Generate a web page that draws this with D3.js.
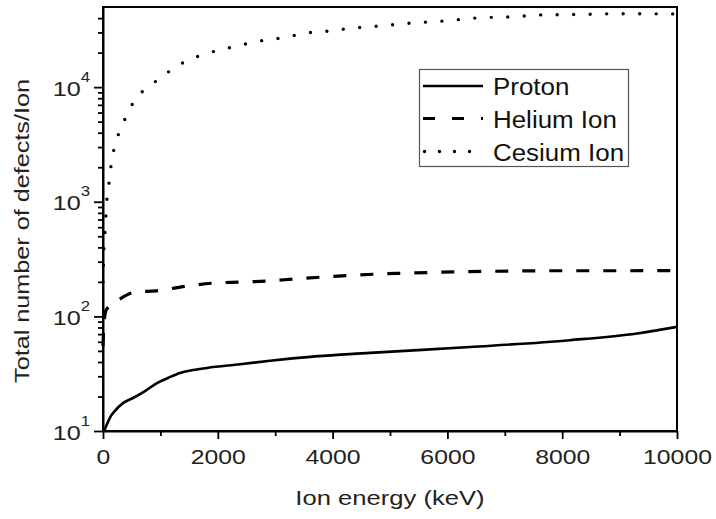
<!DOCTYPE html>
<html>
<head>
<meta charset="utf-8">
<script src="https://cdn.jsdelivr.net/npm/d3@7"></script>
<style>
  html, body { margin: 0; padding: 0; background: #fff; }
  svg { display: block; font-family: "Liberation Sans", Arial, sans-serif; }
</style>
</head>
<body>
<svg id="chart" width="716" height="519"></svg>
<script>
// Defects produced per incident ion versus ion energy
const protonEnergy  = [20, 70, 122, 209, 348, 523, 732, 941, 1132, 1341, 1568, 1812, 2387, 2909, 3258, 4652, 6394, 8136, 9303, 10000];
const protonDefects = [10, 11.5, 13.1, 15, 17.5, 19.4, 22.3, 26.2, 29, 32.1, 34, 35.5, 38.2, 41, 42.8, 48, 54, 62, 71, 81];

const heliumEnergy  = [0, 10, 25, 60, 157, 418, 592, 930, 1463, 1916, 2387, 2860, 3380, 3870, 4340, 4790, 5270, 5750, 6210, 6700, 7180, 8000, 9000, 10000];
const heliumDefects = [55, 75, 95, 115, 126, 154, 164, 167, 184, 195, 199, 203, 213, 221, 228, 234, 238, 242, 245, 247, 249, 250, 250, 251];

const cesiumEnergy  = [0, 8, 17, 35, 52, 70, 105, 139, 192, 279, 401, 557, 836, 1115, 1394, 1672, 1968, 2265, 2561, 2840, 3118, 3397, 3693, 3980, 4250, 4825, 5400, 5958, 6533, 7090, 7665, 8257, 8832, 9407, 10000];
const cesiumDefects = [200, 292, 404, 546, 767, 1080, 1460, 2050, 2890, 4000, 5500, 7730, 10400, 13300, 16300, 18700, 20700, 22400, 24300, 25800, 26900, 28600, 30300, 30900, 32300, 34200, 36300, 37800, 40200, 41000, 42700, 43000, 43600, 43600, 43500];

const seriesNames = ["Proton", "Helium Ion", "Cesium Ion"];
const xMajorTicks = [0, 2000, 4000, 6000, 8000, 10000];
const xMinorTicks = [1000, 3000, 5000, 7000, 9000];
const yMajorTicks = [10, 100, 1000, 10000];
const yMinorTicks = [20, 30, 40, 50, 60, 70, 80, 90,
                     200, 300, 400, 500, 600, 700, 800, 900,
                     2000, 3000, 4000, 5000, 6000, 7000, 8000, 9000,
                     20000, 30000, 40000];
const xDomain = [0, 10000];
const yDomain = [10, 50000];
const xTitle = "Ion energy (keV)";
const yTitle = "Total number of defects/Ion";

const svg = d3.select("#chart");
const W = 716, H = 519;
const margin = { left: 103, top: 7, right: 39, bottom: 88 };
const textColor = "#222";

const x = d3.scaleLinear().domain(xDomain).range([margin.left, W - margin.right]);
const y = d3.scaleLog().domain(yDomain).range([H - margin.bottom, margin.top]);

const [x0, x1] = x.range();
const [y0, y1] = y.range();

// plot frame
svg.append("rect")
  .attr("x", x0).attr("y", y1)
  .attr("width", x1 - x0).attr("height", y0 - y1)
  .attr("fill", "none").attr("stroke", "#000").attr("stroke-width", 2);

svg.append("defs").append("clipPath").attr("id", "plot-clip")
  .append("rect").attr("x", x0 - 2).attr("y", y1).attr("width", x1 - x0 + 2).attr("height", y0 - y1);

// curves
const line = d3.line().curve(d3.curveMonotoneX);
const series = [
  { e: protonEnergy, v: protonDefects, dash: null, width: 2.6, cap: "butt" },
  { e: heliumEnergy, v: heliumDefects, dash: "13 14", width: 3.2, cap: "butt" },
  { e: cesiumEnergy, v: cesiumDefects, dash: "0 16.5", width: 3.4, cap: "round" }
];
const plot = svg.append("g").attr("clip-path", "url(#plot-clip)");
series.forEach(s => {
  const pts = s.e.map((e, i) => [x(e), y(s.v[i])]);
  plot.append("path")
    .attr("d", line(pts))
    .attr("fill", "none")
    .attr("stroke", "#000")
    .attr("stroke-width", s.width)
    .attr("stroke-linecap", s.cap)
    .attr("stroke-linejoin", "round")
    .attr("stroke-dasharray", s.dash);
});

// x axis
svg.append("g").attr("transform", `translate(0,${y0})`)
  .call(d3.axisBottom(x).tickValues(xMinorTicks).tickSize(5).tickFormat(""))
  .call(g => g.select(".domain").remove());
const gxMajor = svg.append("g").attr("transform", `translate(0,${y0})`)
  .call(d3.axisBottom(x).tickValues(xMajorTicks).tickSize(8).tickSizeOuter(0).tickFormat(d3.format("d")));
gxMajor.select(".domain").attr("stroke", "#000").attr("stroke-width", 2);
gxMajor.selectAll(".tick text")
  .attr("y", 33).attr("dy", null)
  .attr("font-size", 21).attr("fill", textColor)
  .attr("font-family", "Liberation Sans, Arial, sans-serif")
  .attr("transform", "scale(1.18,1)");

// y axis
svg.append("g").attr("transform", `translate(${x0},0)`)
  .call(d3.axisLeft(y).tickValues(yMinorTicks).tickSize(5).tickFormat(""))
  .call(g => g.select(".domain").remove());
const gy = svg.append("g").attr("transform", `translate(${x0},0)`)
  .call(d3.axisLeft(y).tickValues(yMajorTicks).tickSize(9).tickSizeOuter(0).tickFormat(""));
gy.select(".domain").attr("stroke", "#000").attr("stroke-width", 2);
gy.selectAll(".tick text").each(function(d) {
  const t = d3.select(this);
  t.text(null)
    .attr("x", -13 / 1.2).attr("y", 8).attr("dy", null)
    .attr("text-anchor", "end")
    .attr("font-size", 21).attr("fill", textColor)
    .attr("font-family", "Liberation Sans, Arial, sans-serif")
    .attr("transform", "scale(1.2,1)");
  t.append("tspan").text("10");
  t.append("tspan").attr("font-size", 14).attr("dy", -14).text(Math.round(Math.log10(d)));
});
svg.selectAll(".tick line").attr("stroke", "#000").attr("stroke-width", 1.8);

// axis titles
svg.append("text")
  .attr("transform", `translate(${(x0 + x1) / 2},505) scale(1.22,1)`)
  .attr("text-anchor", "middle")
  .attr("font-size", 21).attr("fill", textColor)
  .text(xTitle);
svg.append("text")
  .attr("transform", `translate(29,231) rotate(-90) scale(1.2,1)`)
  .attr("text-anchor", "middle")
  .attr("font-size", 21).attr("fill", textColor)
  .text(yTitle);

// legend
const legend = svg.append("g");
legend.append("rect")
  .attr("x", 419.5).attr("y", 69.5).attr("width", 209).attr("height", 97)
  .attr("fill", "#fff").attr("stroke", "#555").attr("stroke-width", 1.2);
const legendRows = [86, 118.5, 151.5];
seriesNames.forEach((name, i) => {
  const s = series[i];
  const ly = legendRows[i];
  legend.append("line")
    .attr("x1", 423).attr("x2", 483).attr("y1", ly).attr("y2", ly)
    .attr("stroke", "#000")
    .attr("stroke-width", s.width)
    .attr("stroke-linecap", s.cap)
    .attr("stroke-dasharray", i === 1 ? "12 17" : i === 2 ? "0 15" : null)
    .attr("stroke-dashoffset", i === 2 ? -1.5 : 0);
  legend.append("text")
    .attr("transform", `translate(493,${ly + 9}) scale(1.08,1)`)
    .attr("font-size", 24).attr("fill", "#111")
    .text(name);
});
</script>
</body>
</html>
